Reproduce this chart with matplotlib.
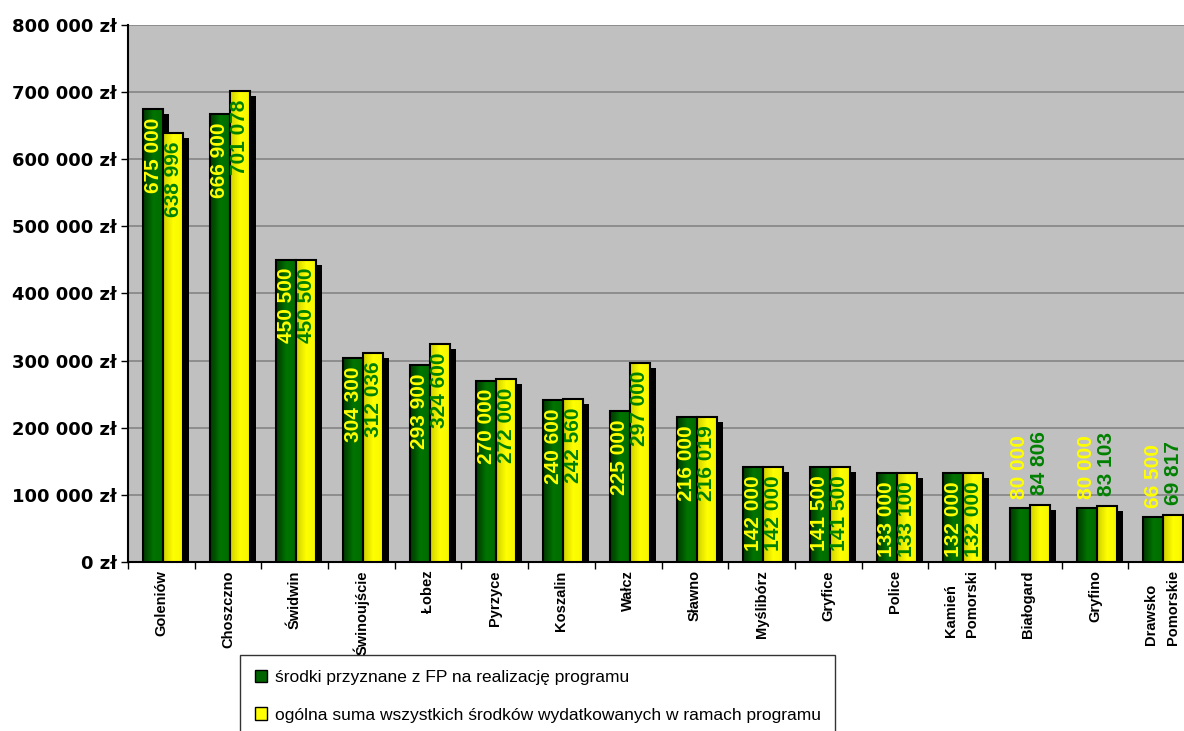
import matplotlib
matplotlib.use("Agg")
import matplotlib.pyplot as plt
import matplotlib.transforms as mtransforms
from matplotlib.colors import LinearSegmentedColormap
from matplotlib.patches import Patch
from matplotlib import font_manager
import numpy as np

# data
cities = ['Goleniów', 'Choszczno', 'Świdwin', 'Świnoujście', 'Łobez', 'Pyrzyce',
          'Koszalin', 'Wałcz', 'Sławno', 'Myślibórz', 'Gryfice', 'Police',
          'Kamień\nPomorski', 'Białogard', 'Gryfino', 'Drawsko\nPomorskie']
granted = [675000, 666900, 450500, 304300, 293900, 270000, 240600, 225000,
           216000, 142000, 141500, 133000, 132000, 80000, 80000, 66500]
total = [638996, 701078, 450500, 312036, 324600, 272000, 242560, 297000,
         216019, 142000, 141500, 133100, 132000, 84806, 83103, 69817]
yticks = np.arange(0, 800001, 100000)
series_names = ['środki przyznane z FP na realizację programu',
                'ogólna suma wszystkich środków wydatkowanych w ramach programu']

def fmt(v):
    return '{:,}'.format(v).replace(',', ' ')

installed = {f.name for f in font_manager.fontManager.ttflist}
if 'Liberation Sans Narrow' in installed:
    lab_font, lab_size = 'Liberation Sans Narrow', 18
else:
    lab_font, lab_size = 'Liberation Sans', 15

plt.rcParams['font.family'] = ['Liberation Sans', 'DejaVu Sans']

fig = plt.figure(figsize=(11.84, 7.31), dpi=100)
ax = fig.add_axes([128/1184, 1-562/731, 1067/1184, (562-25)/731])
ax.set_facecolor('#c0c0c0')

index = np.arange(len(cities))
w = 0.3
x_g = index - 0.125
x_y = index + 0.175

# shadows
shadow = ax.transData + mtransforms.ScaledTranslation(6/100, -5/100, fig.dpi_scale_trans)
ax.bar(x_g, granted, w, color='black', transform=shadow, zorder=2)
ax.bar(x_y, total, w, color='black', transform=shadow, zorder=2)

green_cm = LinearSegmentedColormap.from_list('g', ['#003800', '#007400', '#006a00'])
yellow_cm = LinearSegmentedColormap.from_list('y', ['#d0d000', '#ffff00', '#f4f400'])
grad = np.linspace(0, 1, 64).reshape(1, -1)

bars_g = ax.bar(x_g, granted, w, color='#006400', zorder=3)
bars_y = ax.bar(x_y, total, w, color='#ffff00', zorder=3)
for bars, cm in ((bars_g, green_cm), (bars_y, yellow_cm)):
    for r in bars:
        x0, y0 = r.get_x(), r.get_y()
        im = ax.imshow(grad, cmap=cm, aspect='auto', zorder=3.5,
                       extent=[x0, x0 + r.get_width(), y0, y0 + r.get_height()])
        im.set_clip_path(r)
ax.bar(x_g, granted, w, facecolor='none', edgecolor='black', linewidth=1.5, zorder=4)
ax.bar(x_y, total, w, facecolor='none', edgecolor='black', linewidth=1.5, zorder=4)

# value labels
for i in range(len(cities)):
    for x, v, c in ((x_g[i], granted[i], '#ffff00'), (x_y[i], total[i], '#008000')):
        if v > 100000:
            ax.annotate(fmt(v), (x, v), xytext=(0, -6), textcoords='offset points',
                        rotation=90, ha='center', va='top', color=c,
                        fontsize=lab_size, fontweight='bold', family=lab_font, zorder=5)
        else:
            ax.annotate(fmt(v), (x, v), xytext=(0, 7), textcoords='offset points',
                        rotation=90, ha='center', va='bottom', color=c,
                        fontsize=lab_size, fontweight='bold', family=lab_font, zorder=5)

ax.set_xlim(-0.5, len(cities) - 0.5)
ax.set_ylim(0, 800000)
ax.set_yticks(yticks)
ax.set_yticklabels([fmt(v) + ' zł' for v in yticks], fontsize=13, fontweight='bold',
                   family='DejaVu Sans')
ax.yaxis.grid(True, color='#808080', linewidth=1.1)
ax.set_axisbelow(True)
ax.tick_params(axis='y', length=5, width=1, pad=3)

ax.set_xticks(index)
ax.set_xticklabels(cities, rotation=90, fontsize=10.5, fontweight='bold',
                   va='top', ha='center', linespacing=1.7, multialignment='left')
ax.set_xticks(np.arange(-0.5, len(cities), 1), minor=True)
ax.tick_params(axis='x', which='major', length=0, pad=6)
ax.tick_params(axis='x', which='minor', length=5, width=1)

for s in ('top', 'right'):
    ax.spines[s].set_visible(False)
ax.spines['left'].set_linewidth(1.5)
ax.spines['bottom'].set_linewidth(1.5)

handles = [Patch(facecolor='#006400', edgecolor='black'),
           Patch(facecolor='#ffff00', edgecolor='black')]
leg = fig.legend(handles, series_names, loc='upper left',
                 bbox_to_anchor=(240/1184, 1-655/731), fontsize=12.5,
                 frameon=True, fancybox=False, edgecolor='black',
                 handlelength=0.7, handleheight=0.7, handletextpad=0.45,
                 labelspacing=1.3, borderpad=0.85, borderaxespad=0)
leg.get_frame().set_linewidth(1)
leg.set_zorder(10)

fig.savefig('out.png', dpi=100)
